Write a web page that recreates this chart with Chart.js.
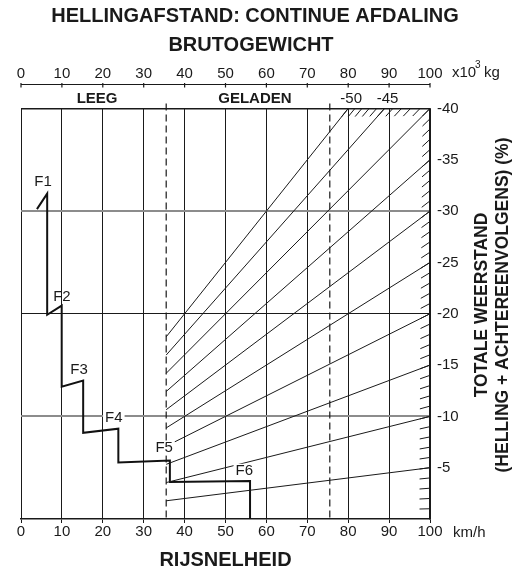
<!DOCTYPE html>
<html>
<head>
<meta charset="utf-8">
<script src="https://cdn.jsdelivr.net/npm/chart.js@4.4.1/dist/chart.umd.min.js"></script>
<style>
    body { margin: 0; background: #fff; }
</style>
</head>
<body>
<canvas id="ctx_hill" width="521" height="573"></canvas>
<script>
// axes
var speedTicks   = [0, 10, 20, 30, 40, 50, 60, 70, 80, 90, 100];   // km/h
var weightTicks  = [0, 10, 20, 30, 40, 50, 60, 70, 80, 90, 100];   // x10^3 kg
var resistTicks  = [-40, -35, -30, -25, -20, -15, -10, -5];        // %

// grade lines (% at 100 km/h) and weight limits
var grades       = [-5, -10, -15, -20, -25, -30, -35, -40, -45, -50];
var emptyWeight  = 35.5;
var loadedWeight = 75.5;
var weightNames  = ['LEEG', 'GELADEN'];

// gear steps F1..F6
var gearNames    = ['F1', 'F2', 'F3', 'F4', 'F5', 'F6'];
var stepSpeed    = [3.9, 6.4, 6.4, 9.95, 9.95, 15.2, 15.2, 23.8, 23.8, 36.4, 36.4, 56, 56];
var stepResist   = [-30.2, -31.7, -19.9, -20.8, -12.9, -13.5, -8.4, -8.8, -5.5, -5.7, -3.6, -3.7, 0];

var FONT = '"Liberation Sans", Arial, Helvetica, sans-serif';
var INK  = '#1a1a1a';
Chart.defaults.font.family = FONT;
Chart.defaults.color = INK;

var gradeSets = grades.map(function (g) {
    var endX = Math.min(100, -4000 / g);
    return {
        data: [ { x: emptyWeight, y: g * emptyWeight / 100 }, { x: endX, y: g * endX / 100 } ],
        showLine: true,
        borderColor: INK,
        borderWidth: 1,
        pointRadius: 0
    };
});

var stepSet = {
    data: stepSpeed.map(function (v, i) { return { x: v, y: stepResist[i] }; }),
    showLine: true,
    borderColor: '#111',
    borderWidth: 2,
    pointRadius: 0
};

// label anchors (data units) for the gear names
var gearLabelPos = [[5.4, -32.9], [10.0, -21.6], [14.2, -14.5], [22.7, -9.9], [35.0, -6.9], [54.6, -4.7]];

var decor = {
    id: 'decor',
    beforeDatasetsDraw: function (chart) {
        var c = chart.ctx, x = chart.scales.x, y = chart.scales.y, a = chart.chartArea;
        c.save();
        // weight limit dashed lines
        c.strokeStyle = INK;
        c.lineWidth = 1.2;
        c.setLineDash([7, 4]);
        [emptyWeight, loadedWeight].forEach(function (w) {
            var px = x.getPixelForValue(w);
            c.beginPath();
            c.moveTo(px, a.top - 5);
            c.lineTo(px, a.bottom);
            c.stroke();
        });
        c.setLineDash([]);
        // hatch ticks along the boundary, one per percent
        c.lineWidth = 1;
        c.beginPath();
        for (var g = 1; g <= 50; g++) {
            var ex = Math.min(100, 4000 / g);
            var px = x.getPixelForValue(ex), py = y.getPixelForValue(-g * ex / 100);
            var qx = x.getPixelForValue(ex - 10), qy = y.getPixelForValue(-g * (ex - 10) / 100);
            var dx = px - qx, dy = py - qy, len = Math.sqrt(dx * dx + dy * dy);
            c.moveTo(px, py);
            c.lineTo(px - dx / len * 10.5, py - dy / len * 10.5);
        }
        c.stroke();
        c.restore();
    },
    afterDatasetsDraw: function (chart) {
        var c = chart.ctx, x = chart.scales.x, y = chart.scales.y;
        c.save();
        c.font = '15px ' + FONT;
        c.textAlign = 'center';
        c.textBaseline = 'middle';
        gearNames.forEach(function (name, i) {
            var px = x.getPixelForValue(gearLabelPos[i][0]);
            var py = y.getPixelForValue(gearLabelPos[i][1]);
            var w = c.measureText(name).width;
            if (i >= 3) {
                c.fillStyle = '#fff';
                c.fillRect(px - w / 2 - 2, py - 7, w + 4, 14);
            }
            c.fillStyle = INK;
            c.fillText(name, px, py);
        });
        c.restore();
    },
    afterDraw: function (chart) {
        var c = chart.ctx, x = chart.scales.x, y = chart.scales.y, a = chart.chartArea;
        c.save();
        c.fillStyle = INK;
        c.strokeStyle = INK;
        c.textBaseline = 'middle';
        c.textAlign = 'center';
        c.font = 'bold 20px ' + FONT;
        c.fillText('HELLINGAFSTAND: CONTINUE AFDALING', 255, 16);
        c.fillText('BRUTOGEWICHT', 251, 45);

        // weight axis line
        var ay = 84.5;
        c.lineWidth = 1.2;
        c.beginPath();
        c.moveTo(x.getPixelForValue(0), ay);
        c.lineTo(x.getPixelForValue(100), ay);
        weightTicks.forEach(function (v) {
            var px = x.getPixelForValue(v);
            c.moveTo(px, ay - 1.5);
            c.lineTo(px, ay + 3);
        });
        c.stroke();

        c.font = '15px ' + FONT;
        c.textAlign = 'left';
        c.fillText('x10', 452, 73);
        c.fillText('kg', 484, 73);
        c.fillText('km/h', 453, 533);
        c.font = '10px ' + FONT;
        c.fillText('3', 475, 65);

        c.font = 'bold 15px ' + FONT;
        c.textAlign = 'center';
        c.fillText(weightNames[0], x.getPixelForValue(18.6), 98.5);
        c.fillText(weightNames[1], x.getPixelForValue(57.2), 98.5);

        // grade labels for lines leaving through the top
        c.font = '15px ' + FONT;
        grades.forEach(function (g) {
            if (-4000 / g < 100) {
                c.fillText(String(g), x.getPixelForValue(-4000 / g) + 3, 98.5);
            }
        });

        // right axis title
        c.translate(482, 305);
        c.rotate(-Math.PI / 2);
        c.font = 'bold 17.5px ' + FONT;
        c.fillText('TOTALE WEERSTAND', 0, 0);
        c.fillText('(HELLING + ACHTEREENVOLGENS) (%)', 0, 21);
        c.restore();
    }
};

var chart = new Chart(document.getElementById('ctx_hill'), {
    type: 'scatter',
    data: { datasets: gradeSets.concat([stepSet]) },
    options: {
        responsive: false,
        animation: false,
        layout: { padding: { left: 21, top: 0, right: 0, bottom: 0 } },
        plugins: { legend: { display: false }, tooltip: { enabled: false } },
        scales: {
            x: {
                type: 'linear',
                position: 'bottom',
                min: 0, max: 100,
                afterBuildTicks: function (s) { s.ticks = speedTicks.map(function (v) { return { value: v }; }); },
                ticks: { autoSkip: false, maxRotation: 0, padding: 0, font: { size: 15 }, color: INK },
                grid: { color: INK, lineWidth: 1, tickLength: 4 },
                border: { color: INK, width: 1.5 },
                title: { display: true, text: 'RIJSNELHEID', font: { size: 20, weight: 'bold' }, color: INK, padding: { top: 0, bottom: 1 } },
                afterFit: function (s) { s.height = 54; }
            },
            x2: {
                type: 'linear',
                axis: 'x',
                position: 'top',
                min: 0, max: 100,
                afterBuildTicks: function (s) { s.ticks = weightTicks.map(function (v) { return { value: v }; }); },
                ticks: { autoSkip: false, maxRotation: 0, padding: 0, font: { size: 15 }, color: INK },
                grid: { drawOnChartArea: false, drawTicks: true, tickLength: 26, color: 'rgba(0,0,0,0)' },
                border: { display: false },
                afterFit: function (s) { s.height = 108.5; }
            },
            y: {
                type: 'linear',
                position: 'right',
                min: -40, max: 0,
                reverse: true,
                afterBuildTicks: function (s) {
                    s.ticks = resistTicks.concat([0]).map(function (v) { return { value: v }; });
                },
                ticks: {
                    padding: 7,
                    font: { size: 15 },
                    color: INK,
                    callback: function (v) { return v === 0 ? '' : String(v); }
                },
                grid: {
                    drawTicks: false,
                    color: function (c) {
                        var v = c.tick ? c.tick.value : null;
                        if (v === -10 || v === -30) return '#8c8c8c';
                        if (v === -20 || v === -40) return INK;
                        return 'rgba(0,0,0,0)';
                    },
                    lineWidth: function (c) {
                        var v = c.tick ? c.tick.value : null;
                        if (v === -10 || v === -30) return 2;
                        return v === -40 ? 1.5 : 1;
                    }
                },
                border: { color: INK, width: 1.5 },
                afterFit: function (s) { s.width = 91; }
            }
        }
    },
    plugins: [decor]
});
</script>
</body>
</html>
